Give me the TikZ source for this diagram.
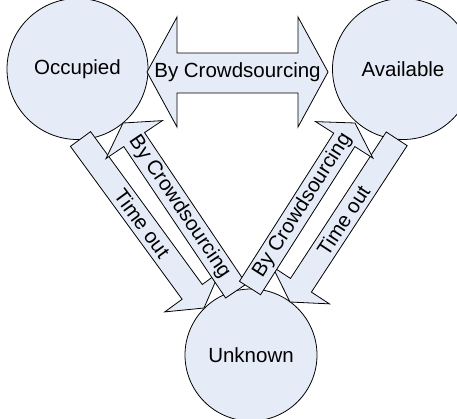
\documentclass[tikz,border=0pt]{standalone}
\usepackage{fontspec}
\setmainfont{Liberation Sans}
\usetikzlibrary{calc}
\definecolor{fillblue}{RGB}{230,236,247}
\tikzset{
  statenode/.style={circle, draw=black, fill=fillblue, line width=0.8pt, inner sep=0pt,
    font=\fontsize{20.5}{24}\selectfont},
  blockarr/.style={draw=black, fill=fillblue, line width=0.8pt, line join=miter},
  arrtext/.style={font=\fontsize{20.5}{24}\selectfont, inner sep=0pt},
}
% #1 tail coordinate, #2 tip coordinate, #3 text node name, #4 text
\newcommand{\blockarrow}[4]{%
  \coordinate (hb) at ($(#2)!20pt!(#1)$);
  \draw[blockarr] ($(#1)!12.5pt!90:(#2)$) -- ($(hb)!12.5pt!90:(#2)$) -- ($(hb)!34pt!90:(#2)$)
    -- (#2) -- ($(hb)!34pt!-90:(#2)$) -- ($(hb)!12.5pt!-90:(#2)$) -- ($(#1)!12.5pt!-90:(#2)$) -- cycle;
  \path (#1) -- (#2) node[midway, sloped, arrtext] (#3) {#4};
}
\begin{document}
\begin{tikzpicture}[x=1pt, y=-1pt]
\useasboundingbox (0,0) rectangle (457,418);
\clip (0,0) rectangle (457,418);
% states
\node[statenode, minimum size=141pt] (occ) at (77.5,69) {\raisebox{-3pt}{Occupied}};
\node[statenode, minimum size=141pt] (avl) at (403,69) {\raisebox{-3pt}{Available}};
\node[statenode, minimum size=132pt] (unk) at (251,355) {Unknown};
% horizontal double arrow
\coordinate (hl) at (147,72);
\coordinate (hr) at (328,72);
\draw[blockarr] (hl) -- ($(hl)+(30,-55)$) -- ($(hl)+(30,-19)$) -- ($(hr)+(-30,-19)$) -- ($(hr)+(-30,-55)$)
  -- (hr) -- ($(hr)+(-30,55)$) -- ($(hr)+(-30,21)$) -- ($(hl)+(30,21)$) -- ($(hl)+(30,55)$) -- cycle;
\path (hl) -- (hr) node[midway, arrtext] (hlabel) {By Crowdsourcing};
% diagonal arrows
\coordinate (to1t) at (80.5,139);
\coordinate (to1p) at (204,308);
\coordinate (bc1t) at (236,291);
\coordinate (bc1p) at (123,123);
\coordinate (to2t) at (396.7,138.8);
\coordinate (to2p) at (290,302);
\coordinate (bc2t) at (250,288);
\coordinate (bc2p) at (355,123);
\blockarrow{to1t}{to1p}{to1label}{Time out}
\blockarrow{to2t}{to2p}{to2label}{Time out}
\blockarrow{bc1t}{bc1p}{bc1label}{By Crowdsourcing}
\blockarrow{bc2t}{bc2p}{bc2label}{By Crowdsourcing}
\end{tikzpicture}
\end{document}
